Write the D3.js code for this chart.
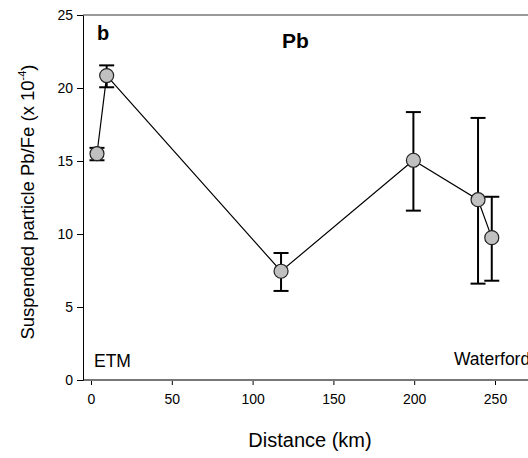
<!DOCTYPE html>
<html>
<head>
<meta charset="utf-8">
<script src="https://cdn.jsdelivr.net/npm/d3@7"></script>
<style>
  body { margin: 0; background: #fff; }
  svg { display: block; font-family: Arial, "Liberation Sans", sans-serif; }
</style>
</head>
<body>
<svg id="chart" width="528" height="458"></svg>
<script>
(function () {
  'use strict';

  // station distance (km) and Pb/Fe values
  var distance = [3.7, 9.7, 117.6, 199.5, 239.5, 248];
  var ratio = [15.5, 20.85, 7.45, 15.05, 12.35, 9.75];
  var errLow = [15.05, 20.05, 6.1, 11.6, 6.6, 6.8];
  var errHigh = [15.9, 21.55, 8.7, 18.35, 17.95, 12.55];
  var xTicks = [0, 50, 100, 150, 200, 250];
  var yTicks = [0, 5, 10, 15, 20, 25];

  var points = distance.map(function (d, i) {
    return { x: d, y: ratio[i], lo: errLow[i], hi: errHigh[i] };
  });

  var svg = d3.select('#chart');
  var left = 83, top = 15, bottom = 380, rightEnd = 580;

  var x = d3.scaleLinear().domain([0, 250]).range([91, 495]);
  var y = d3.scaleLinear().domain([0, 25]).range([bottom, top]);

  // frame lines (top and bottom grey, left black)
  svg.append('line')
    .attr('x1', left).attr('x2', rightEnd)
    .attr('y1', top).attr('y2', top)
    .attr('stroke', '#777').attr('stroke-width', 1.5);

  // x axis
  var xAxis = svg.append('g')
    .attr('transform', 'translate(0,' + bottom + ')')
    .call(d3.axisBottom(x).tickValues(xTicks).tickSize(5).tickPadding(9).tickSizeOuter(0));
  xAxis.select('.domain').remove();
  xAxis.selectAll('line').attr('stroke', '#000');
  xAxis.selectAll('text').attr('font-size', 14).attr('fill', '#000');
  svg.append('line')
    .attr('x1', left).attr('x2', rightEnd)
    .attr('y1', bottom).attr('y2', bottom)
    .attr('stroke', '#777').attr('stroke-width', 2);

  // y axis
  var yAxis = svg.append('g')
    .attr('transform', 'translate(' + left + ',0)')
    .call(d3.axisLeft(y).tickValues(yTicks).tickSize(6).tickPadding(4).tickSizeOuter(0));
  yAxis.select('.domain').attr('stroke', '#000');
  yAxis.selectAll('line').attr('stroke', '#000');
  yAxis.selectAll('text').attr('font-size', 14).attr('fill', '#000');

  // axis titles
  svg.append('text')
    .attr('x', 310).attr('y', 447)
    .attr('text-anchor', 'middle')
    .attr('font-size', 20)
    .text('Distance (km)');

  var yt = svg.append('text')
    .attr('transform', 'translate(34,202) rotate(-90)')
    .attr('text-anchor', 'middle')
    .attr('font-size', 18.5);
  yt.append('tspan').text('Suspended particle Pb/Fe (x 10');
  yt.append('tspan').attr('dy', -8).attr('font-size', 11).text('-4');
  yt.append('tspan').attr('dy', 8).text(')');

  // panel labels
  svg.append('text').attr('x', 97).attr('y', 40)
    .attr('font-size', 20).attr('font-weight', 'bold').text('b');
  svg.append('text').attr('x', 282).attr('y', 48)
    .attr('font-size', 21).attr('font-weight', 'bold').text('Pb');
  svg.append('text').attr('x', 94).attr('y', 367)
    .attr('font-size', 17.5).text('ETM');
  svg.append('text').attr('x', 454).attr('y', 365)
    .attr('font-size', 17.5).text('Waterford');

  // error bars
  var eb = svg.append('g').attr('stroke', '#000').attr('stroke-width', 2);
  eb.selectAll('.stem').data(points).enter().append('line')
    .attr('x1', function (d) { return x(d.x); })
    .attr('x2', function (d) { return x(d.x); })
    .attr('y1', function (d) { return y(d.lo); })
    .attr('y2', function (d) { return y(d.hi); });
  ['lo', 'hi'].forEach(function (k) {
    eb.selectAll('.cap-' + k).data(points).enter().append('line')
      .attr('x1', function (d) { return x(d.x) - 7.5; })
      .attr('x2', function (d) { return x(d.x) + 7.5; })
      .attr('y1', function (d) { return y(d[k]); })
      .attr('y2', function (d) { return y(d[k]); });
  });

  // connecting line
  svg.append('path')
    .datum(points)
    .attr('fill', 'none')
    .attr('stroke', '#000')
    .attr('stroke-width', 1.2)
    .attr('d', d3.line().x(function (d) { return x(d.x); }).y(function (d) { return y(d.y); }));

  // markers
  svg.selectAll('.pt').data(points).enter().append('circle')
    .attr('cx', function (d) { return x(d.x); })
    .attr('cy', function (d) { return y(d.y); })
    .attr('r', 7)
    .attr('fill', '#c0c0c0')
    .attr('stroke', '#222')
    .attr('stroke-width', 1.2);
}());
</script>
</body>
</html>
